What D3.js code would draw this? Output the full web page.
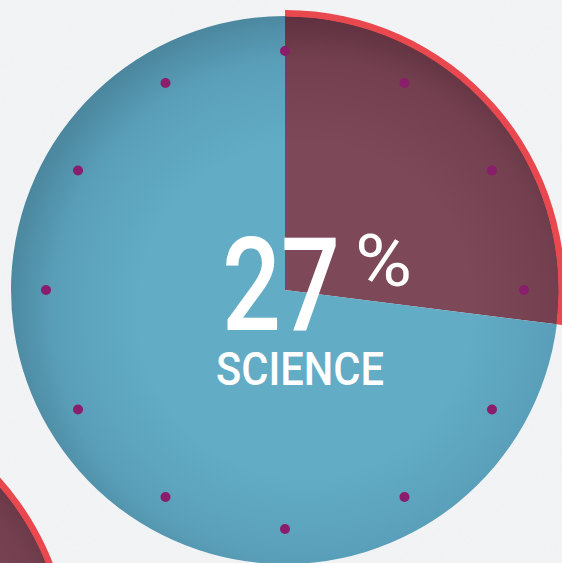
<!DOCTYPE html>
<html>
<head>
<meta charset="utf-8">
<script src="https://cdn.jsdelivr.net/npm/d3@7"></script>
<style>
  html, body { margin: 0; padding: 0; background: #f2f3f5; overflow: hidden; }
  svg { display: block; }
</style>
</head>
<body>
<svg id="chart" width="562" height="563"></svg>
<script>
// data
var shareLabels = ["Science", "Other"];
var shareValues = [27, 73];
var mainLabel = "SCIENCE";
var neighbourValues = [24, 76]; // next pie, only a corner shows
var clockTicks = [0, 1, 2, 3, 4, 5, 6, 7, 8, 9, 10, 11];

var svg = d3.select("#chart");
var W = 562, H = 563;
var cx = 285, cy = 290, R = 274, ring = 6;

var defs = svg.append("defs");

// paper texture
var noise = defs.append("filter").attr("id", "paper").attr("x", 0).attr("y", 0).attr("width", "100%").attr("height", "100%");
noise.append("feTurbulence").attr("type", "fractalNoise").attr("baseFrequency", 0.9).attr("numOctaves", 2).attr("seed", 3);
noise.append("feColorMatrix").attr("type", "matrix")
  .attr("values", "0 0 0 0 1  0 0 0 0 1  0 0 0 0 1  0 0 0 0.45 -0.1");

svg.append("rect").attr("width", W).attr("height", H).attr("fill", "#eff1f3");
svg.append("rect").attr("width", W).attr("height", H).attr("filter", "url(#paper)").attr("opacity", 0.9);

function shade(id, inner, mid, outer) {
  var g = defs.append("radialGradient").attr("id", id)
    .attr("gradientUnits", "userSpaceOnUse").attr("cx", 20).attr("cy", 20).attr("r", R + 30);
  g.append("stop").attr("offset", "0%").attr("stop-color", inner);
  g.append("stop").attr("offset", "55%").attr("stop-color", inner);
  g.append("stop").attr("offset", "82%").attr("stop-color", mid);
  g.append("stop").attr("offset", "100%").attr("stop-color", outer);
}
shade("blueShade", "#62acc6", "#5a9fb9", "#4a859c");
shade("plumShade", "#7d4858", "#74404f", "#5a2d3b");

var pie = d3.pie().sort(null).value(function(d) { return d; });
var wedge = d3.arc().innerRadius(0).outerRadius(R);
var rim = d3.arc().innerRadius(R - 0.5).outerRadius(R + ring);
var fills = ["url(#plumShade)", "url(#blueShade)"];

function drawPie(values, x, y) {
  var g = svg.append("g").attr("transform", "translate(" + x + "," + y + ")");
  var arcs = pie(values);
  g.selectAll("path.slice").data(arcs).enter().append("path")
    .attr("class", "slice")
    .attr("d", wedge)
    .attr("fill", function(d, i) { return fills[i]; });
  g.append("path").datum(arcs[0]).attr("d", rim).attr("fill", "#e9484f");
  return g;
}

// neighbour pie in the lower left corner
drawPie(neighbourValues, -208, 665);

var main = drawPie(shareValues, cx, cy);

// clock dots
var angle = d3.scaleLinear().domain([0, 12]).range([0, 2 * Math.PI]);
var dotR = 239;
main.selectAll("circle.tick").data(clockTicks).enter().append("circle")
  .attr("class", "tick")
  .attr("cx", function(d) { return dotR * Math.sin(angle(d)); })
  .attr("cy", function(d) { return -dotR * Math.cos(angle(d)); })
  .attr("r", 5)
  .attr("fill", "#8a1d6c");

// labels
svg.append("text")
  .attr("x", 281).attr("y", 330)
  .attr("text-anchor", "middle")
  .attr("font-family", "Roboto, sans-serif")
  .attr("font-weight", 500)
  .attr("font-size", 129)
  .attr("textLength", 118)
  .attr("lengthAdjust", "spacingAndGlyphs")
  .attr("fill", "#ffffff")
  .text(shareValues[0]);

svg.append("text")
  .attr("x", 355).attr("y", 286)
  .attr("font-family", "Roboto, sans-serif")
  .attr("font-weight", 400)
  .attr("font-size", 72)
  .attr("textLength", 57)
  .attr("lengthAdjust", "spacingAndGlyphs")
  .attr("fill", "#ffffff")
  .text("%");

svg.append("text")
  .attr("x", 300).attr("y", 385)
  .attr("text-anchor", "middle")
  .attr("font-family", "Roboto, sans-serif")
  .attr("font-weight", 500)
  .attr("font-size", 46)
  .attr("textLength", 168)
  .attr("lengthAdjust", "spacingAndGlyphs")
  .attr("fill", "#ffffff")
  .text(mainLabel);
</script>
</body>
</html>
